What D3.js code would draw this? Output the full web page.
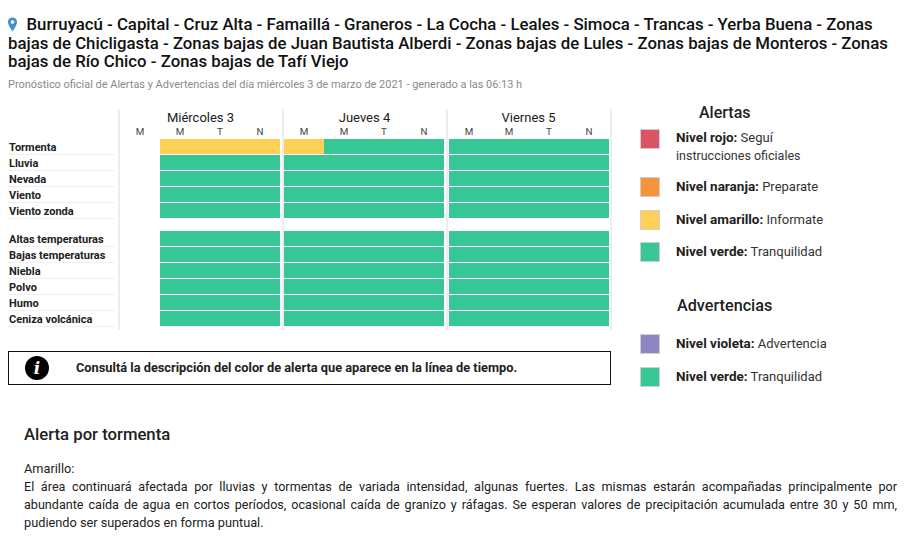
<!DOCTYPE html>
<html lang="es">
<head>
<meta charset="UTF-8">
<title>Alertas</title>
<script src="https://d3js.org/d3.v7.min.js"></script>
<style>
  html, body { margin: 0; padding: 0; background: #fff; }
  body { width: 905px; height: 545px; overflow: hidden; position: relative; font-family: Roboto, sans-serif; color: #212121; }
  svg { position: absolute; left: 0; top: 0; }
  .line { position: absolute; left: 24px; width: 873px; font-size: 12.6px; line-height: 16px; text-align: justify; text-align-last: justify; }
  .line.last { text-align-last: left; font-size: 12.75px; }
</style>
</head>
<body>
<svg width="905" height="545"></svg>
<script>
// Data
const titleLines = [
  "Burruyacú - Capital - Cruz Alta - Famaillá - Graneros - La Cocha - Leales - Simoca - Trancas - Yerba Buena - Zonas",
  "bajas de Chicligasta - Zonas bajas de Juan Bautista Alberdi - Zonas bajas de Lules - Zonas bajas de Monteros - Zonas",
  "bajas de Río Chico - Zonas bajas de Tafí Viejo"
];
const subtitle = "Pronóstico oficial de Alertas y Advertencias del día miércoles 3 de marzo de 2021 - generado a las 06:13 h";
const days = ["Miércoles 3", "Jueves 4", "Viernes 5"];
const periods = ["M", "M2", "T", "N"];
const alertRows = ["Tormenta", "Lluvia", "Nevada", "Viento", "Viento zonda"];
const warningRows = ["Altas temperaturas", "Bajas temperaturas", "Niebla", "Polvo", "Humo", "Ceniza volcánica"];
// one string per row, one letter per period: x = no data, a = amarillo, v = verde
const tormenta = "xaaa" + "avvv" + "vvvv";
const restOfRows = "xvvv" + "vvvv" + "vvvv";
const levelColors = { a: "#fed055", v: "#36c795" };
const alertLegend = [
  { color: "#dc5565", bold: "Nivel rojo:", text: " Seguí", extra: "instrucciones oficiales" },
  { color: "#f6943c", bold: "Nivel naranja:", text: " Preparate" },
  { color: "#fed055", bold: "Nivel amarillo:", text: " Informate" },
  { color: "#36c795", bold: "Nivel verde:", text: " Tranquilidad" }
];
const warningLegend = [
  { color: "#8c86c2", bold: "Nivel violeta:", text: " Advertencia" },
  { color: "#36c795", bold: "Nivel verde:", text: " Tranquilidad" }
];
const alertLegendY = [139, 187, 220, 252];
const warningLegendY = [344, 377];
const infoText = "Consultá la descripción del color de alerta que aparece en la línea de tiempo.";
const bodyTitle = "Alerta por tormenta";
const bodyLines = [
  "Amarillo:",
  "El área continuará afectada por lluvias y tormentas de variada intensidad, algunas fuertes. Las mismas estarán acompañadas principalmente por",
  "abundante caída de agua en cortos períodos, ocasional caída de granizo y ráfagas. Se esperan valores de precipitación acumulada entre 30 y 50 mm,",
  "pudiendo ser superados en forma puntual."
];

const svg = d3.select("svg");

// Title block
svg.append("path")
  .attr("d", "M12.5 17.5c-3 0-4.6 2.3-4.6 4.6 0 3.3 4.6 9.4 4.6 9.4s4.6-6.1 4.6-9.4c0-2.3-1.6-4.6-4.6-4.6zm0 6.4a1.8 1.8 0 1 1 0-3.6 1.8 1.8 0 0 1 0 3.6z")
  .attr("fill", "#4a90c8");
svg.selectAll(".title").data(titleLines).join("text")
  .attr("class", "title")
  .attr("x", (d, i) => i === 0 ? 26.5 : 8)
  .attr("y", (d, i) => 30 + i * 18.5)
  .attr("font-size", 16.8).attr("font-weight", 500).attr("fill", "#111")
  .text(d => d);
svg.append("text").attr("x", 8).attr("y", 88)
  .attr("font-size", 10.95).attr("fill", "#8a8a8a").text(subtitle);

// Scales
const xDay = d3.scaleBand().domain(days).range([119, 611]);
const xPeriod = d3.scaleBand().domain(periods).range([0, 160]);
const dayInset = [1, 1, 2];
const yAlert = d3.scaleBand().domain(alertRows).range([139, 219]);
const yWarn = d3.scaleBand().domain(warningRows).range([231, 327]);

// Day headers
const dayG = svg.selectAll(".day").data(days).join("g")
  .attr("class", "day")
  .attr("transform", d => `translate(${xDay(d)},0)`);
dayG.append("text")
  .attr("x", xDay.bandwidth() / 2 - 0.5).attr("y", 122)
  .attr("text-anchor", "middle").attr("font-size", 13).attr("fill", "#212121")
  .text(d => d);
dayG.each(function (d, i) {
  d3.select(this).selectAll("text.p").data(periods).join("text")
    .attr("class", "p")
    .attr("x", p => dayInset[i] + xPeriod(p) + xPeriod.bandwidth() / 2)
    .attr("y", 135)
    .attr("text-anchor", "middle").attr("font-size", 9.8).attr("fill", "#444")
    .text(p => p[0]);
});

// Vertical separators
svg.selectAll(".sep").data([...days, "end"]).join("line")
  .attr("class", "sep")
  .attr("x1", (d, i) => 119 + i * xDay.bandwidth()).attr("x2", (d, i) => 119 + i * xDay.bandwidth())
  .attr("y1", 109).attr("y2", 330)
  .attr("stroke", "#dcdcdc").attr("stroke-width", 1);

// Rows
function drawRows(rows, y, levels) {
  svg.append("g").selectAll("line").data(rows).join("line")
    .attr("x1", 8).attr("x2", 115)
    .attr("y1", d => y(d) + y.bandwidth() - 0.5).attr("y2", d => y(d) + y.bandwidth() - 0.5)
    .attr("stroke", "#f0f0f0");
  svg.append("g").selectAll("text").data(rows).join("text")
    .attr("x", 9).attr("y", d => y(d) + 12)
    .attr("font-size", 11).attr("font-weight", 700).attr("fill", "#212121")
    .text(d => d);
  rows.forEach(row => {
    const cells = [];
    days.forEach((day, di) => periods.forEach((p, pi) => {
      const level = levels(row)[di * 4 + pi];
      if (level !== "x") cells.push({ day, di, p, level });
    }));
    svg.append("g").selectAll("rect").data(cells).join("rect")
      .attr("x", c => xDay(c.day) + dayInset[c.di] + xPeriod(c.p))
      .attr("y", y(row))
      .attr("width", xPeriod.bandwidth())
      .attr("height", y.bandwidth() - 1)
      .attr("fill", c => levelColors[c.level]);
  });
}
const levelsFor = row => row === "Tormenta" ? tormenta : restOfRows;
drawRows(alertRows, yAlert, levelsFor);
drawRows(warningRows, yWarn, levelsFor);

// Info box
svg.append("rect").attr("x", 8.5).attr("y", 351.5).attr("width", 602).attr("height", 33)
  .attr("fill", "none").attr("stroke", "#111");
svg.append("circle").attr("cx", 37).attr("cy", 368).attr("r", 12).attr("fill", "#000");
svg.append("text").attr("x", 37).attr("y", 374).attr("text-anchor", "middle")
  .attr("font-family", "'DejaVu Serif', serif").attr("font-style", "italic").attr("font-weight", 700)
  .attr("font-size", 17).attr("fill", "#fff").text("i");
svg.append("text").attr("x", 76).attr("y", 372)
  .attr("font-size", 12.8).attr("font-weight", 700).attr("fill", "#212121").text(infoText);

// Legends
function drawLegend(items, ys) {
  items.forEach((it, i) => {
    svg.append("rect").attr("x", 640.5).attr("y", ys[i] - 9.5).attr("width", 19).attr("height", 19)
      .attr("fill", it.color).attr("stroke", "#cfcfcf").attr("stroke-width", 1);
    const t = svg.append("text").attr("x", 676).attr("y", ys[i] + (it.extra ? 3 : 4))
      .attr("font-size", 13).attr("fill", "#333");
    t.append("tspan").attr("font-weight", 700).attr("font-size", 13.5).attr("fill", "#212121").text(it.bold);
    t.append("tspan").text(it.text);
    if (it.extra) {
      svg.append("text").attr("x", 676).attr("y", ys[i] + 21)
        .attr("font-size", 12.5).attr("fill", "#333").text(it.extra);
    }
  });
}
svg.append("text").attr("x", 699).attr("y", 118).attr("font-size", 16).attr("font-weight", 500).attr("fill", "#212121").text("Alertas");
svg.append("text").attr("x", 677).attr("y", 311).attr("font-size", 16.2).attr("font-weight", 500).attr("fill", "#212121").text("Advertencias");
drawLegend(alertLegend, alertLegendY);
drawLegend(warningLegend, warningLegendY);

// Body text
svg.append("text").attr("x", 24).attr("y", 440).attr("font-size", 16.7).attr("font-weight", 500).attr("fill", "#212121").text(bodyTitle);
d3.select("body").selectAll("div.line").data(bodyLines).join("div")
  .attr("class", (d, i) => "line" + (i === 0 || i === 3 ? " last" : ""))
  .style("top", (d, i) => (461 + i * 18) + "px")
  .text(d => d);
</script>
</body>
</html>
